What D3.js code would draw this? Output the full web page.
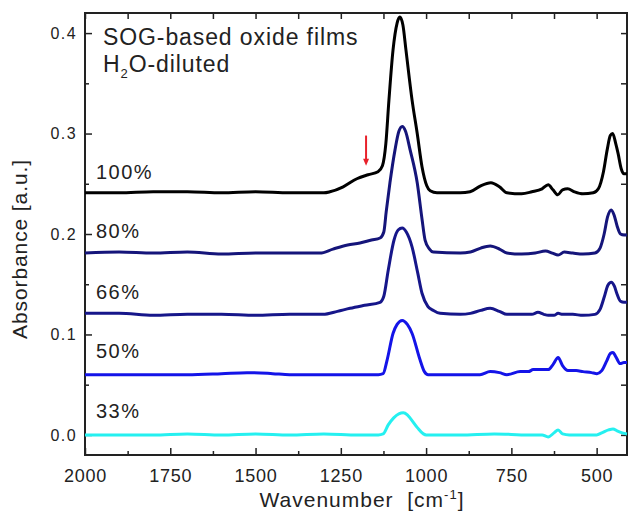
<!DOCTYPE html>
<html>
<head>
  <meta charset="utf-8">
  <script src="https://cdn.jsdelivr.net/npm/d3@7"></script>
  <style>
    body { margin: 0; background: #fff; }
    text { font-family: Arial, "Liberation Sans", sans-serif; fill: #222; }
  </style>
</head>
<body>
<script type="text/javascript">
  "use strict";

  /* spectra: [wavenumber, absorbance] */
  var s100 = [[2000,0.241],[1900,0.241],[1800,0.242],[1700,0.242],[1600,0.241],[1500,0.242],[1400,0.241],[1300,0.241],
    [1282,0.242],[1243,0.247],[1203,0.255],[1170,0.259],[1141,0.262],[1128,0.268],[1118,0.290],[1109,0.333],[1097,0.383],
    [1085,0.410],[1077,0.416],[1068,0.408],[1059,0.383],[1041,0.333],[1026,0.300],[1012,0.267],[998,0.248],[988,0.243],
    [968,0.241],[900,0.241],[871,0.242],[840,0.248],[810,0.251],[785,0.247],[763,0.241],[720,0.240],[690,0.242],[660,0.245],
    [642,0.249],[628,0.244],[614,0.239],[600,0.244],[585,0.245],[565,0.242],[540,0.240],[510,0.241],[495,0.245],[480,0.262],
    [469,0.284],[460,0.298],[453,0.300],[444,0.290],[437,0.280],[428,0.265],[420,0.260],[411,0.260]];

  var s80 = [[2000,0.181],[1900,0.182],[1800,0.181],[1700,0.182],[1600,0.180],[1500,0.181],[1400,0.181],[1311,0.181],
    [1273,0.185],[1230,0.189],[1194,0.191],[1160,0.194],[1135,0.196],[1124,0.202],[1117,0.222],[1106,0.251],[1091,0.284],
    [1080,0.302],[1070,0.307],[1060,0.302],[1047,0.284],[1026,0.251],[1012,0.215],[1003,0.194],[990,0.185],[979,0.182],
    [900,0.181],[870,0.182],[840,0.186],[812,0.188],[785,0.185],[763,0.181],[720,0.180],[680,0.181],[650,0.183],[630,0.181],
    [613,0.179],[595,0.182],[570,0.181],[540,0.180],[505,0.181],[490,0.186],[478,0.200],[468,0.217],[457,0.224],[448,0.218],
    [440,0.208],[430,0.200],[420,0.199],[411,0.199]];

  var s66 = [[2000,0.121],[1900,0.121],[1800,0.119],[1700,0.120],[1600,0.120],[1500,0.119],[1400,0.120],[1302,0.120],
    [1260,0.123],[1223,0.126],[1180,0.129],[1135,0.132],[1124,0.138],[1111,0.164],[1094,0.194],[1082,0.204],[1070,0.206],
    [1058,0.202],[1041,0.187],[1025,0.162],[1012,0.141],[995,0.128],[979,0.124],[959,0.121],[900,0.120],[870,0.121],
    [840,0.124],[812,0.126],[785,0.123],[763,0.120],[720,0.120],[690,0.120],[672,0.122],[655,0.120],[642,0.119],[625,0.119],
    [613,0.121],[600,0.120],[570,0.120],[540,0.119],[505,0.120],[490,0.125],[478,0.137],[467,0.149],[457,0.152],[448,0.148],
    [440,0.140],[430,0.133],[420,0.132],[411,0.132]];

  var s50 = [[2000,0.060],[1900,0.060],[1800,0.060],[1700,0.060],[1600,0.061],[1525,0.062],[1450,0.061],[1400,0.060],
    [1300,0.060],[1200,0.060],[1140,0.060],[1126,0.061],[1114,0.075],[1097,0.101],[1085,0.110],[1070,0.114],[1055,0.110],
    [1041,0.101],[1018,0.075],[1005,0.063],[994,0.060],[960,0.060],[900,0.060],[842,0.060],[812,0.063],[785,0.062],
    [763,0.060],[724,0.063],[700,0.063],[686,0.065],[660,0.065],[642,0.065],[628,0.070],[613,0.077],[600,0.069],[584,0.064],
    [560,0.064],[540,0.063],[515,0.062],[499,0.061],[485,0.064],[470,0.074],[460,0.081],[452,0.082],[444,0.078],[431,0.071],
    [420,0.072],[411,0.072]];

  var s33 = [[2000,0.000],[1900,0.000],[1800,0.000],[1700,0.001],[1600,0.000],[1500,0.001],[1400,0.000],[1300,0.001],
    [1200,0.000],[1140,0.000],[1126,0.001],[1111,0.010],[1095,0.017],[1080,0.021],[1067,0.022],[1055,0.020],[1045,0.016],
    [1025,0.007],[1008,0.001],[1000,0.000],[950,0.000],[900,0.000],[800,0.001],[700,0.000],[660,0.000],[642,-0.002],
    [625,0.002],[613,0.005],[600,0.001],[580,0.000],[540,0.000],[500,0.000],[485,0.002],[465,0.005],[452,0.006],
    [440,0.004],[425,0.002],[411,0.001]];

  var seriesNames = ["100%", "80%", "66%", "50%", "33%"];
  var seriesData = [s100, s80, s66, s50, s33];
  var labelY = [0.255, 0.196, 0.135, 0.077, 0.017];   // where each label sits (absorbance)

  var xTicks = [2000, 1750, 1500, 1250, 1000, 750, 500];
  var yTicks = [0.0, 0.1, 0.2, 0.3, 0.4];

  var colors = ["#000000", "#15157a", "#16168a", "#1414e8", "#25f0f0"];

  var width = 630, height = 518;
  var margin = {top: 13, right: 3, bottom: 63, left: 85};
  var w = width - margin.left - margin.right,
      h = height - margin.top - margin.bottom;

  var svg = d3.select("body").append("svg")
      .attr("width", width)
      .attr("height", height)
    .append("g")
      .attr("transform", "translate(" + margin.left + "," + margin.top + ")");

  var x = d3.scaleLinear().domain([2000, 411]).range([0, w]);
  var y = d3.scaleLinear().domain([-0.02, 0.42]).range([h, 0]);

  var xMinor = d3.range(2000, 410, -125).filter(function(d) { return xTicks.indexOf(d) < 0; });
  var yMinor = [0.05, 0.15, 0.25, 0.35];

  function styleAxis(g) {
    g.select(".domain").remove();
    g.selectAll("line").attr("stroke", "#222").attr("stroke-width", 1.5);
  }

  // bottom
  svg.append("g").attr("transform", "translate(0," + h + ")")
    .call(d3.axisBottom(x).tickValues(xTicks).tickSize(-7).tickPadding(14).tickFormat(d3.format("d")))
    .call(styleAxis)
    .selectAll("text").style("font-size", "18px").style("letter-spacing", "0.8px")
      .style("font-family", "Arial, 'Liberation Sans', sans-serif").attr("fill", "#222");
  svg.append("g").attr("transform", "translate(0," + h + ")")
    .call(d3.axisBottom(x).tickValues(xMinor).tickSize(-4).tickFormat(""))
    .call(styleAxis);
  // top
  svg.append("g")
    .call(d3.axisTop(x).tickValues(xTicks.concat(xMinor)).tickSize(-6).tickFormat(""))
    .call(styleAxis);
  // left
  svg.append("g")
    .call(d3.axisLeft(y).tickValues(yTicks).tickSize(-7).tickPadding(8).tickFormat(d3.format(".1f")))
    .call(styleAxis)
    .selectAll("text").style("font-size", "16px").style("letter-spacing", "1.4px")
      .style("font-family", "Arial, 'Liberation Sans', sans-serif").attr("fill", "#222");
  svg.append("g")
    .call(d3.axisLeft(y).tickValues(yMinor).tickSize(-4).tickFormat(""))
    .call(styleAxis);
  // right
  svg.append("g").attr("transform", "translate(" + w + ",0)")
    .call(d3.axisRight(y).tickValues(yTicks.concat(yMinor)).tickSize(-6).tickFormat(""))
    .call(styleAxis);

  // frame
  svg.append("rect")
    .attr("width", w).attr("height", h)
    .attr("fill", "none").attr("stroke", "#222").attr("stroke-width", 2);

  var line = d3.line()
    .x(function(d) { return x(d[0]); })
    .y(function(d) { return y(d[1]); })
    .curve(d3.curveMonotoneX);

  svg.selectAll(".spectrum")
    .data(seriesData)
    .enter().append("path")
      .attr("class", "spectrum")
      .attr("d", line)
      .attr("fill", "none")
      .attr("stroke", function(d, i) { return colors[i]; })
      .attr("stroke-width", 3)
      .attr("stroke-linejoin", "round");

  svg.selectAll(".lbl")
    .data(seriesNames)
    .enter().append("text")
      .attr("class", "lbl")
      .attr("x", 11)
      .attr("y", function(d, i) { return y(labelY[i]); })
      .style("font-size", "20px")
      .style("letter-spacing", "1.5px")
      .text(function(d) { return d; });

  // title
  svg.append("text").attr("x", 18).attr("y", 32)
    .style("font-size", "23px").style("letter-spacing", "0.9px")
    .text("SOG-based oxide films");
  var t2 = svg.append("text").attr("x", 18).attr("y", 59)
    .style("font-size", "23px").style("letter-spacing", "0.9px");
  t2.append("tspan").text("H");
  t2.append("tspan").attr("dy", 6).style("font-size", "13px").text("2");
  t2.append("tspan").attr("dy", -6).text("O-diluted");

  // red arrow marking the shoulder
  var ax = x(1176);
  svg.append("line")
    .attr("x1", ax).attr("x2", ax)
    .attr("y1", y(0.298)).attr("y2", y(0.274))
    .attr("stroke", "#e8202a").attr("stroke-width", 2);
  svg.append("path")
    .attr("d", "M" + (ax - 3) + "," + y(0.275) + "L" + (ax + 3) + "," + y(0.275) + "L" + ax + "," + y(0.268) + "Z")
    .attr("fill", "#e8202a");

  // axis titles
  var xt = svg.append("text")
    .attr("x", w / 2 + 6).attr("y", h + 52)
    .attr("text-anchor", "middle")
    .style("font-size", "21px").style("letter-spacing", "1px");
  xt.append("tspan").text("Wavenumber\u00a0 [cm");
  xt.append("tspan").attr("dy", -8).style("font-size", "13px").text("-1");
  xt.append("tspan").attr("dy", 8).text("]");

  svg.append("text")
    .attr("transform", "translate(-58," + (h / 2 + 15) + ") rotate(-90)")
    .attr("text-anchor", "middle")
    .style("font-size", "21px").style("letter-spacing", "0.9px")
    .text("Absorbance [a.u.]");
</script>
</body>
</html>
